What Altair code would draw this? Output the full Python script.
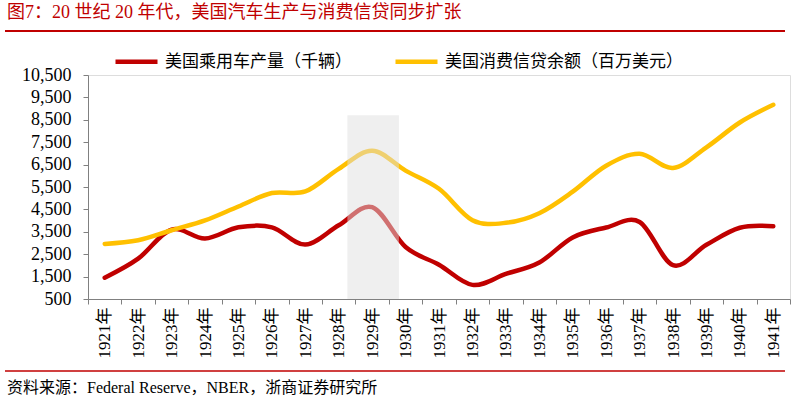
import altair as alt
import pandas as pd

# ---- data ----
years = list(range(1921, 1942))
car_production = [1450, 2300, 3600, 3200, 3700, 3700, 2930, 3790, 4600, 2820,
                  2030, 1130, 1620, 2130, 3250, 3690, 3940, 2010, 2920, 3680, 3745]
consumer_credit = [2960, 3120, 3570, 4010, 4630, 5230, 5300, 6310, 7120, 6230,
                   5420, 4020, 3900, 4330, 5290, 6450, 6980, 6350, 7270, 8380, 9170]
series_names = ["美国乘用车产量（千辆）", "美国消费信贷余额（百万美元）"]
series_colors = ["#c00000", "#ffc000"]
y_ticks = list(range(500, 11000, 1000))
shade_start = [1928.26]
shade_end = [1929.8]
shade_top = [8700]
shade_bottom = [500]
title_text = "图7：20 世纪 20 年代，美国汽车生产与消费信贷同步扩张"
source_text = "资料来源：Federal Reserve，NBER，浙商证券研究所"

FONT = "Liberation Serif, Noto Sans CJK SC"

df = pd.DataFrame({
    "year": years * 2,
    "value": car_production + consumer_credit,
    "series": [series_names[0]] * len(years) + [series_names[1]] * len(years),
})
shade_df = pd.DataFrame({"year": shade_start, "year_end": shade_end,
                         "value": shade_bottom, "value_end": shade_top})

W, H = 702, 224

x_scale = alt.Scale(domain=[1920.5, 1941.5], nice=False, zero=False)
y_scale = alt.Scale(domain=[500, 10500], nice=False, zero=False)

x_axis = alt.Axis(
    values=[y + 0.5 for y in range(1920, 1942)],
    labelExpr="datum.value < 1941 ? toString(datum.value + 0.5) + '年' : ''",
    labelOffset=W / 21 / 2,
    labelAngle=-90,
    labelAlign="right",
    labelBaseline="middle",
    labelFlush=False,
    labelOverlap=False,
    labelPadding=3,
    labelFont=FONT,
    labelFontSize=17,
    labelColor="#000000",
    tickSize=5,
    tickColor="#808080",
    domainColor="#808080",
    grid=False,
    title=None,
)
y_axis = alt.Axis(
    values=y_ticks,
    format=",.0f",
    labelFont=FONT,
    labelFontSize=18,
    labelColor="#000000",
    labelPadding=12,
    labelFlush=False,
    labelOverlap=False,
    tickSize=5,
    tickColor="#808080",
    domainColor="#808080",
    grid=False,
    title=None,
)

lines = alt.Chart(df).mark_line(
    interpolate="cardinal", strokeWidth=4.5, strokeCap="round", strokeJoin="round"
).encode(
    x=alt.X("year:Q", scale=x_scale, axis=x_axis),
    y=alt.Y("value:Q", scale=y_scale, axis=y_axis),
    color=alt.Color(
        "series:N",
        sort=series_names,
        scale=alt.Scale(domain=series_names, range=series_colors),
        legend=alt.Legend(
            orient="none",
            legendX=25,
            legendY=-37,
            direction="horizontal",
            title=None,
            symbolType="stroke",
            symbolSize=1764,
            symbolStrokeWidth=4.5,
            labelFont=FONT,
            labelFontSize=17,
            labelColor="#000000",
            labelOffset=5,
            labelLimit=500,
            columnPadding=34,
        ),
    ),
)

shade = alt.Chart(shade_df).mark_rect(color="#dfdfdf", opacity=0.5).encode(
    x=alt.X("year:Q", scale=x_scale, axis=x_axis),
    x2="year_end:Q",
    y=alt.Y("value:Q", scale=y_scale, axis=y_axis),
    y2="value_end:Q",
)

title = alt.Chart(pd.DataFrame({"t": [title_text]})).mark_text(
    align="left", baseline="alphabetic", font=FONT, fontSize=18, color="#c00000"
).encode(text="t:N", x=alt.value(-81), y=alt.value(-57))

source = alt.Chart(pd.DataFrame({"t": [source_text]})).mark_text(
    align="left", baseline="alphabetic", font=FONT, fontSize=16, color="#000000"
).encode(text="t:N", x=alt.value(-81), y=alt.value(318))

top_rule = alt.Chart(pd.DataFrame({"a": [0]})).mark_rule(color="#c00000", strokeWidth=2).encode(
    x=alt.value(-83), x2=alt.value(697), y=alt.value(-44)
)
bottom_rule = alt.Chart(pd.DataFrame({"a": [0]})).mark_rule(color="#c00000", strokeWidth=1.5).encode(
    x=alt.value(-83), x2=alt.value(697), y=alt.value(296)
)

chart = alt.layer(lines, shade, title, source, top_rule, bottom_rule).properties(
    width=W,
    height=H,
    autosize=alt.AutoSizeParams(type="none"),
    padding={"left": 88, "top": 75, "right": 12, "bottom": 103},
).configure_view(stroke=None).configure(background="white")

chart.save("out.html", embed_options={"renderer": "svg", "actions": False})
